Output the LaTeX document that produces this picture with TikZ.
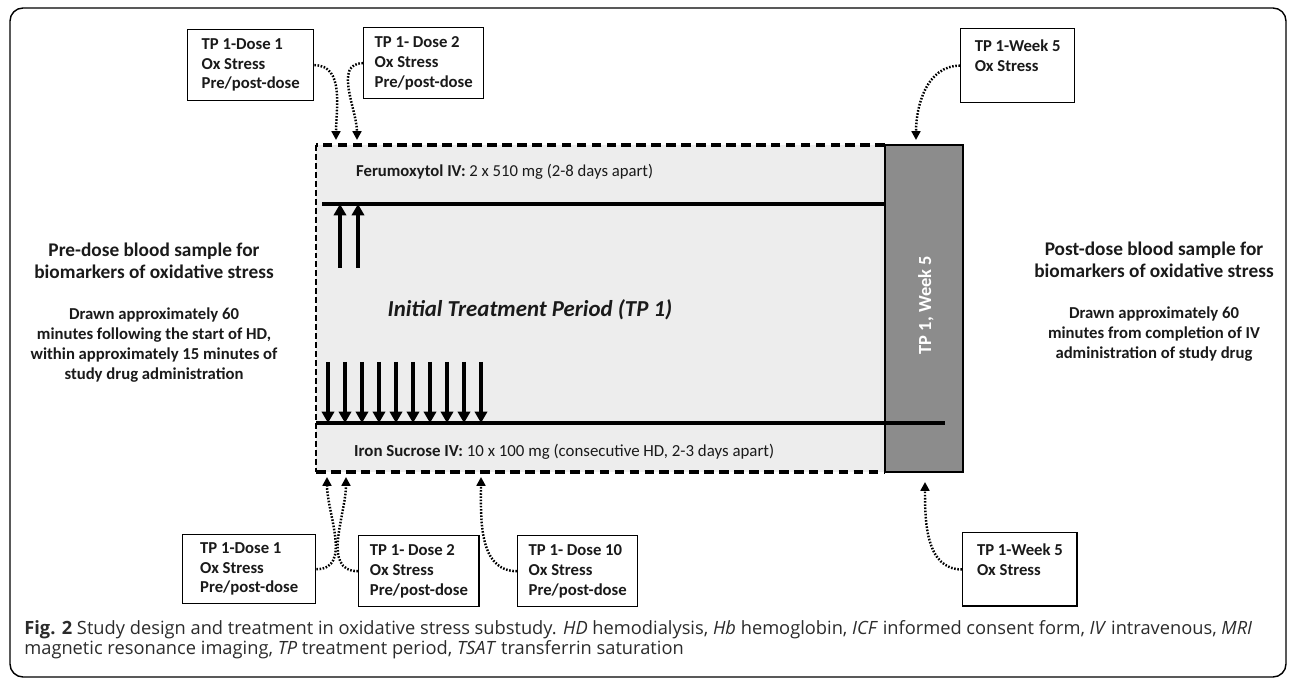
\documentclass[tikz,border=0pt]{standalone}
\usepackage{fontspec}
\setmainfont{Carlito}
\newfontfamily\capfont{Open Sans}
\usetikzlibrary{arrows.meta}
\definecolor{periodgray}{HTML}{EDEDED}
\definecolor{weekgray}{HTML}{8C8C8C}
\definecolor{inkgray}{HTML}{1A1A1A}
\definecolor{capgray}{HTML}{2B2B2B}

\begin{document}
\begin{tikzpicture}[x=0.02cm,y=0.02cm,
    font=\bfseries\fontsize{9.5}{11.2}\selectfont,
    text=inkgray,
    oxbox/.style={draw, line width=0.8pt, fill=white, align=left,
      anchor=north west, inner xsep=0.2cm, minimum height=1.42cm},
    sample/.style={line width=1.4pt, dash pattern=on 0.9pt off 0.9pt,
      -{Triangle[width=5pt,length=5pt]}},
    dose/.style={line width=2.2pt, -{Triangle[width=7pt,length=6.5pt]}},
    period/.style={line width=2.1pt},
    headtext/.style={align=center, font=\bfseries\fontsize{11}{12.6}\selectfont},
    subtext/.style={align=center, font=\bfseries\fontsize{9.5}{11.4}\selectfont}]
  \useasboundingbox (0,0) rectangle (1292,679);
  \draw[line width=0.8pt, rounded corners=0.26cm] (10,2) rectangle (1286,671);

  % treatment period and week 5
  \fill[periodgray] (316,207) rectangle (885,534);
  \draw[line width=2.1pt, dash pattern=on 5.5pt off 3pt] (885,534) -- (316,534);
  \draw[line width=2.1pt, dash pattern=on 5.5pt off 3pt] (316,207) -- (885,207);
  \draw[line width=1.6pt, dash pattern=on 3.4pt off 1.7pt] (316,534) -- (316,207);
  \draw[fill=weekgray, line width=1.2pt] (885,207) rectangle (963,534);
  \node[rotate=90, text=white, font=\bfseries\fontsize{10.5}{12}\selectfont]
    (wklabel) at (926,374) {TP 1, Week 5};
  \node (itp) at (530,369)
    {\fontsize{13}{15}\selectfont\bfseries\itshape Initial Treatment Period (TP 1)};

  % ferumoxytol arm
  \coordinate (ferL) at (322,475);
  \coordinate (ferR) at (885,475);
  \draw[period] (ferL) -- (ferR);
  \node[anchor=west, font=\fontsize{9.5}{11}\selectfont] (fertext) at (350,507)
    {\textbf{Ferumoxytol IV:} 2 x 510 mg (2-8 days apart)};
  \foreach \x in {340,358}
    \draw[dose] (\x,411) -- (\x,475);

  % iron sucrose arm
  \coordinate (isL) at (316,256);
  \coordinate (isR) at (945,256);
  \draw[period] (isL) -- (isR);
  \node[anchor=west, font=\fontsize{9.6}{11}\selectfont] (istext) at (348,227)
    {\textbf{Iron Sucrose IV:} 10 x 100 mg (consecutive HD, 2-3 days apart)};
  \foreach \i in {0,...,9}
    \draw[dose] (328+17*\i,317) -- (328+17*\i,256);

  % sampling boxes
  \node[oxbox, minimum width=2.52cm] (fdA) at (187,650) {TP 1-Dose 1\\Ox Stress\\Pre/post-dose};
  \node[oxbox, minimum width=2.40cm] (fdB) at (363,652) {TP 1- Dose 2\\Ox Stress\\Pre/post-dose};
  \node[oxbox, minimum width=2.28cm, minimum height=1.48cm] (fwk) at (960,651) {TP 1-Week 5\\Ox Stress\\\mbox{}};
  \node[oxbox, minimum width=2.66cm, minimum height=1.38cm] (idA) at (182,145) {TP 1-Dose 1\\Ox Stress\\Pre/post-dose};
  \node[oxbox, minimum width=2.41cm] (idB) at (358,144) {TP 1- Dose 2\\Ox Stress\\Pre/post-dose};
  \node[oxbox, minimum width=2.40cm] (idJ) at (517,144) {TP 1- Dose 10\\Ox Stress\\Pre/post-dose};
  \node[oxbox, minimum width=2.29cm, minimum height=1.47cm] (iwk) at (962,147) {TP 1-Week 5\\Ox Stress\\\mbox{}};

  \coordinate (tfdA) at (336,539);
  \coordinate (tfdB) at (357,539);
  \coordinate (tfwk) at (916,539);
  \coordinate (tidA) at (327,202);
  \coordinate (tidB) at (346,202);
  \coordinate (tidJ) at (481,202);
  \coordinate (tiwk) at (925,197);
  \draw[sample] (fdA.east) to[out=0, in=90] (tfdA);
  \draw[sample] (fdB.west) to[out=180, in=90] (tfdB);
  \draw[sample] (fwk.west) to[out=180, in=90] (tfwk);
  \draw[sample] (idA.east) to[out=0, in=-90] (tidA);
  \draw[sample] (idB.west) to[out=180, in=-90] (tidB);
  \draw[sample] (idJ.west) to[out=180, in=-90] (tidJ);
  \draw[sample] (iwk.west) to[out=180, in=-90] (tiwk);

  % side notes
  \node[headtext] (prehead) at (154,418) {Pre-dose blood sample for\\biomarkers of oxidative stress};
  \node[subtext] (presub) at (154,334) {Drawn approximately 60\\minutes following the start of HD,\\within approximately 15 minutes of\\study drug administration};
  \node[headtext] (posthead) at (1154,419) {Post-dose blood sample for\\biomarkers of oxidative stress};
  \node[subtext] (postsub) at (1154,345) {Drawn approximately 60\\minutes from completion of IV\\administration of study drug};

  % caption
  \node[anchor=west, align=left, text=capgray, inner xsep=0pt, font=\capfont\fontsize{10.4}{11.4}\selectfont] (caption) at (24,39)
    {\textbf{Fig. 2} Study design and treatment in oxidative stress substudy. \textit{HD} hemodialysis, \textit{Hb} hemoglobin, \textit{ICF} informed consent form, \textit{IV} intravenous, \textit{MRI}\\
     magnetic resonance imaging, \textit{TP} treatment period, \textit{TSAT} transferrin saturation};
\end{tikzpicture}
\end{document}
